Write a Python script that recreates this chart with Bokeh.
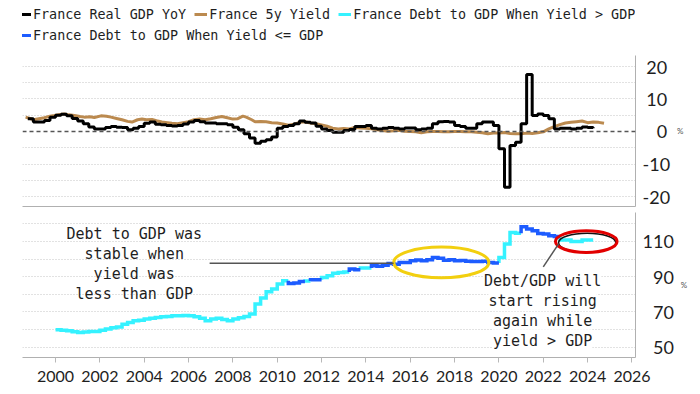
import numpy as np
from bokeh.plotting import figure
from bokeh.models import Range1d, FixedTicker, Span, Legend, LegendItem, Label, Arrow
from bokeh.layouts import column
from bokeh.embed import file_html
from bokeh.resources import INLINE

# ---------------- data ----------------
# France Real GDP YoY (%), quarterly, first quarter starts 1998.75
gdp_first_quarter = 1998.75
gdp_yoy = [
    3.9,
    2.9, 2.9, 3.4, 4.4,
    5.0, 5.3, 4.8, 4.0,
    3.2, 2.4, 1.4, 0.8,
    0.8, 1.2, 1.5, 1.3,
    1.2, 0.5, 1.0, 1.5,
    2.5, 2.9, 2.2, 2.1,
    1.8, 1.7, 1.8, 2.3,
    2.9, 3.4, 3.0, 2.6,
    2.6, 2.4, 2.4, 2.1,
    1.3, 0.5, -0.7, -2.0,
    -3.6, -3.0, -2.5, -1.7,
    1.0, 1.5, 1.8, 2.4,
    3.2, 2.8, 2.6, 1.6,
    0.8, 0.3, -0.2, -0.2,
    0.3, 0.6, 1.5, 1.5,
    1.8, 1.0, 0.8, 1.0,
    1.2, 1.0, 0.8, 1.1,
    1.1, 0.5, 0.8, 1.0,
    2.4, 3.0, 3.1, 2.9,
    1.8, 1.5, 1.0, 1.0,
    2.4, 2.9, 2.9, 1.8,
    -5.3, -17.1, -4.3, -3.3,
    2.4, 17.5, 4.9, 5.4,
    4.9, 3.9, 0.8, 1.0,
    1.0, 0.8, 1.0, 1.4,
    1.2, 1.0,
]

# France 5y yield (%)
yield_years = [
    1998.65, 1998.85, 1999.0, 1999.25, 1999.5, 1999.75, 1999.95, 2000.2, 2000.4, 2000.6,
    2000.85, 2001.1, 2001.3, 2001.55, 2001.75, 2002.05, 2002.3, 2002.5, 2002.75, 2003.0,
    2003.25, 2003.45, 2003.7, 2003.9, 2004.1, 2004.35, 2004.55, 2004.8, 2005.05, 2005.25,
    2005.5, 2005.75, 2006.0, 2006.25, 2006.5, 2006.75, 2007.0, 2007.25, 2007.5, 2007.75,
    2008.0, 2008.2, 2008.45, 2008.6, 2008.85, 2009.0, 2009.25, 2009.5, 2009.75, 2010.0,
    2010.25, 2010.5, 2010.75, 2011.0, 2011.25, 2011.5, 2011.75, 2012.0, 2012.25, 2012.5,
    2012.75, 2013.0, 2013.25, 2013.5, 2013.75, 2014.0, 2014.25, 2014.5, 2014.75, 2015.0,
    2015.25, 2015.5, 2015.75, 2016.0, 2016.25, 2016.5, 2016.75, 2017.0, 2017.25, 2017.5,
    2017.75, 2018.0, 2018.25, 2018.5, 2018.75, 2019.0, 2019.25, 2019.5, 2019.75, 2020.0,
    2020.25, 2020.5, 2020.75, 2021.0, 2021.25, 2021.5, 2021.75, 2022.0, 2022.25, 2022.5,
    2022.75, 2023.0, 2023.25, 2023.5, 2023.75, 2024.0, 2024.25, 2024.5, 2024.74,
]
yield_5y = [
    4.4, 4.0, 3.6, 3.9, 4.2, 4.7, 4.9, 5.2, 5.4, 5.1,
    4.9, 4.6, 4.4, 4.5, 4.3, 4.8, 4.7, 4.4, 4.0, 3.6,
    3.1, 2.9, 3.6, 3.8, 3.6, 3.7, 3.3, 2.9, 2.7, 2.5,
    2.4, 2.7, 3.0, 3.6, 3.8, 3.6, 3.9, 4.3, 4.6, 4.2,
    3.8, 3.9, 4.7, 4.4, 3.6, 3.0, 3.1, 3.0, 2.7, 2.6,
    2.3, 1.9, 2.2, 2.8, 3.0, 2.6, 2.4, 2.0, 1.6, 1.0,
    0.8, 0.9, 0.8, 1.2, 1.1, 1.0, 0.8, 0.5, 0.3, 0.1,
    0.2, 0.4, 0.1, 0.0, -0.1, -0.4, -0.1, 0.0, 0.0, -0.1,
    -0.1, 0.0, 0.0, -0.1, -0.1, -0.2, -0.4, -0.7, -0.5, -0.5,
    -0.3, -0.6, -0.7, -0.7, -0.5, -0.6, -0.4, -0.1, 0.8, 1.5,
    2.1, 2.6, 2.8, 3.0, 3.2, 2.7, 2.9, 2.8, 2.5,
]

# France Debt to GDP (%), quarterly, first quarter starts 2000.0
debt_first_quarter = 2000.0
debt_gdp = [
    60.0, 59.6, 59.4, 58.8,
    58.4, 58.6, 59.0, 59.0,
    59.6, 60.3, 61.0, 61.5,
    63.0, 64.1, 65.0, 65.3,
    66.0, 66.5, 66.9, 67.3,
    67.5, 67.9, 67.9, 68.0,
    67.9, 67.3, 66.5, 65.0,
    66.0, 66.4, 65.8, 65.0,
    66.0, 66.8, 67.5, 68.8,
    74.5, 78.0, 81.5, 83.0,
    85.8, 87.7, 86.2, 86.4,
    87.3, 87.5, 88.3, 88.3,
    89.6, 90.5, 92.0, 92.4,
    92.6, 94.3, 94.0, 94.9,
    94.9, 96.2, 96.0, 96.5,
    97.5, 97.0, 98.1, 98.1,
    99.0, 99.5, 99.0, 99.6,
    100.9, 100.5, 99.4, 99.6,
    99.0, 99.2, 98.8, 98.6,
    98.6, 98.8, 98.1, 97.8,
    100.9, 108.5, 115.1, 114.6,
    118.3, 117.0, 116.0, 114.5,
    114.2, 113.2, 112.8, 110.8,
    110.8, 110.0, 110.0, 110.8,
    110.8,
]
# 1 = yield > GDP (cyan), 0 = yield <= GDP (blue)
debt_yield_above = [
    1, 1, 1, 1,
    1, 1, 1, 1,
    1, 1, 1, 1,
    1, 1, 1, 1,
    1, 1, 1, 1,
    1, 1, 1, 1,
    1, 1, 1, 1,
    1, 1, 1, 1,
    1, 1, 1, 1,
    1, 1, 1, 1,
    1, 1, 0, 0,
    0, 1, 0, 0,
    1, 1, 1, 1,
    1, 0, 0, 1,
    1, 0, 0, 0,
    0, 0, 0, 0,
    0, 0, 0, 0,
    0, 0, 0, 0,
    0, 0, 0, 0,
    0, 0, 0, 0,
    1, 1, 1, 1,
    0, 0, 0, 0,
    0, 0, 0, 1,
    1, 1, 1, 1,
    1,
]

legend_labels = [
    "France Real GDP YoY",
    "France 5y Yield",
    "France Debt to GDP When Yield > GDP",
    "France Debt to GDP When Yield <= GDP",
]
top_ticks = [-20, -10, 0, 10, 20]
top_tick_labels = {-20: "-20", -10: "-10", 0: "\u2008\u20070", 10: "\u200810", 20: "\u200820"}
top_grid = [-20, -15, -10, -5, 5, 10, 15, 20]
bot_ticks = [50, 70, 90, 110]
bot_tick_labels = {50: "\u200750", 70: "\u200770", 90: "\u200790", 110: "110"}
bot_grid = [50, 60, 70, 80, 90, 100, 110, 120]
year_ticks = list(range(2000, 2027, 2))

note_left = ["Debt to GDP was", "stable when", "yield was", "less than GDP"]
note_right = ["Debt/GDP will", "start rising", "again while", "yield > GDP"]

# annotation placement (data units)
NOTE_LEFT_X, NOTE_LEFT_Y = 2003.55, [114.35, 103.0, 91.66, 80.3]
NOTE_RIGHT_X, NOTE_RIGHT_Y = 2021.97, [87.7, 76.35, 65.0, 53.65]
YELLOW = dict(x=2017.40, y=98.1, w=4.29, h=17.4)
RED = dict(x=2023.94, y=109.9, w=2.78, h=12.3)

# ---------------- styling ----------------
BLACK = "#000000"
TAN = "#bb8a4f"
CYAN = "#35f2ff"
BLUE = "#1d5cff"
GRID = "#c4c4c4"
AXIS = "#b0b0b0"
TXT = "#1e1e1e"
MONO = "DejaVu Sans Mono"
SANS = "Lato"

X_RANGE = Range1d(1998.51, 2026.16)
W = 692
LB, RB = 22, 57


def style_common(p):
    p.outline_line_color = None
    p.background_fill_color = "white"
    p.border_fill_color = "white"
    p.xgrid.visible = False
    p.yaxis.axis_line_color = AXIS
    p.yaxis.major_tick_out = 0
    p.yaxis.major_tick_in = 0
    p.yaxis.minor_tick_out = 0
    p.yaxis.minor_tick_in = 0
    p.yaxis.major_label_standoff = 7
    p.yaxis.major_label_text_font = SANS
    p.yaxis.major_label_text_font_size = "18px"
    p.yaxis.major_label_text_color = TXT
    p.yaxis.axis_label = "%"
    p.yaxis.axis_label_text_font = SANS
    p.yaxis.axis_label_text_font_size = "8px"
    p.yaxis.axis_label_text_font_style = "normal"
    p.yaxis.axis_label_text_color = "#555555"
    p.yaxis.axis_label_standoff = 4
    p.yaxis.axis_label_orientation = "horizontal"
    p.ygrid.grid_line_color = GRID
    p.ygrid.grid_line_dash = "1 2"
    p.ygrid.grid_line_width = 1


gdp_x = gdp_first_quarter + 0.25 * np.arange(len(gdp_yoy))

# debt to GDP step line split into regime runs
debt_t = debt_first_quarter + 0.25 * np.arange(len(debt_gdp))
runs = {1: ([], []), 0: ([], [])}
n = len(debt_gdp)
i = 0
while i < n:
    flag = debt_yield_above[i]
    j = i
    while j + 1 < n and debt_yield_above[j + 1] == flag:
        j += 1
    xs, ys = [], []
    if i > 0:
        xs.append(debt_t[i]); ys.append(debt_gdp[i - 1])
    for k in range(i, j + 1):
        xs += [debt_t[k], debt_t[k] + 0.25]
        ys += [debt_gdp[k], debt_gdp[k]]
    runs[flag][0].append(xs); runs[flag][1].append(ys)
    i = j + 1

# ---------------- legend strip ----------------
leg = figure(width=W, height=55, output_backend="svg", toolbar_location=None,
             x_range=Range1d(0, W), y_range=Range1d(0, 55),
             x_axis_location=None, y_axis_location=None,
             min_border_left=0, min_border_right=0, min_border_top=0, min_border_bottom=0)
leg.outline_line_color = None
leg.grid.visible = False
# the series themselves (outside this strip's view) give the legend its glyphs
l_gdp = leg.step(gdp_x, gdp_yoy, mode="after", line_color=BLACK, line_width=3)
l_yld = leg.line(yield_years, yield_5y, line_color=TAN, line_width=3)
l_cy = leg.multi_line(runs[1][0], runs[1][1], line_color=CYAN, line_width=3)
l_bl = leg.multi_line(runs[0][0], runs[0][1], line_color=BLUE, line_width=3)

leg_kw = dict(orientation="horizontal", label_text_font=MONO, label_text_font_size="13.4px",
              label_text_color=TXT, glyph_width=13, glyph_height=18, label_height=18,
              label_standoff=2, spacing=8, padding=0, margin=0,
              border_line_color=None, background_fill_alpha=0)
legend1 = Legend(items=[LegendItem(label=legend_labels[0], renderers=[l_gdp]),
                        LegendItem(label=legend_labels[1], renderers=[l_yld]),
                        LegendItem(label=legend_labels[2], renderers=[l_cy])],
                 location=(-4, 32), **leg_kw)
legend2 = Legend(items=[LegendItem(label=legend_labels[3], renderers=[l_bl])],
                 location=(-4, 11), **leg_kw)
leg.add_layout(legend1)
leg.add_layout(legend2)

# ---------------- top panel ----------------
top = figure(width=W, height=152, output_backend="svg", toolbar_location=None,
             x_range=X_RANGE, y_range=Range1d(-23.0, 23.3), y_axis_location="right",
             min_border_left=LB, min_border_right=RB, min_border_top=0, min_border_bottom=1)
style_common(top)
top.yaxis.ticker = FixedTicker(ticks=top_ticks)
top.yaxis.major_label_overrides = top_tick_labels
top.ygrid.ticker = FixedTicker(ticks=top_grid)
top.xaxis.ticker = FixedTicker(ticks=[])
top.xaxis.major_label_standoff = 0
top.xaxis.major_tick_out = 0
top.xaxis.major_tick_in = 0
top.xaxis.minor_tick_out = 0
top.xaxis.minor_tick_in = 0
top.xaxis.axis_line_color = AXIS

top.add_layout(Span(location=0, dimension="width", line_color="#555555",
                    line_dash="4 3", line_width=1.5))

top.line(yield_years, yield_5y, line_color=TAN, line_width=3)
top.step(gdp_x, gdp_yoy, mode="after", line_color=BLACK, line_width=3)

# ---------------- bottom panel ----------------
bot = figure(width=W, height=183, output_backend="svg", toolbar_location=None,
             x_range=X_RANGE, y_range=Range1d(44.2, 126.4), y_axis_location="right",
             min_border_left=LB, min_border_right=RB, min_border_top=5, min_border_bottom=33)
style_common(bot)
bot.yaxis.ticker = FixedTicker(ticks=bot_ticks)
bot.yaxis.major_label_overrides = bot_tick_labels
bot.ygrid.ticker = FixedTicker(ticks=bot_grid)
bot.xaxis.ticker = FixedTicker(ticks=year_ticks)
bot.xaxis.axis_line_color = AXIS
bot.xaxis.major_tick_out = 5
bot.xaxis.major_tick_in = 0
bot.xaxis.minor_tick_out = 0
bot.xaxis.minor_tick_in = 0
bot.xaxis.major_tick_line_color = "#b8b8b8"
bot.xaxis.major_label_standoff = 8
bot.xaxis.major_label_text_font = SANS
bot.xaxis.major_label_text_font_size = "16px"
bot.xaxis.major_label_text_color = TXT

bot.multi_line(runs[1][0], runs[1][1], line_color=CYAN, line_width=3.5, line_join="miter")
bot.multi_line(runs[0][0], runs[0][1], line_color=BLUE, line_width=3.5, line_join="miter")

# annotations
bot.add_layout(Arrow(end=None, x_start=2006.95, y_start=97.7, x_end=2015.25, y_end=97.7,
                     line_color="#555555", line_width=1.5))
bot.add_layout(Arrow(end=None, x_start=2022.70, y_start=108.8, x_end=2022.0, y_end=95.6,
                     line_color="#555555", line_width=1.5))
bot.ellipse(x=[YELLOW["x"]], y=[YELLOW["y"]], width=[YELLOW["w"]], height=[YELLOW["h"]],
            fill_color=None, line_color="#f2cf0f", line_width=3)
bot.ellipse(x=[RED["x"] + 0.04], y=[RED["y"] - 0.7], width=[RED["w"] - 0.2], height=[RED["h"] - 1.4],
            fill_color=None, line_color="#111111", line_width=1.5)
bot.ellipse(x=[RED["x"]], y=[RED["y"]], width=[RED["w"]], height=[RED["h"]],
            fill_color=None, line_color="#e20000", line_width=3)

for txt, yy in zip(note_left, NOTE_LEFT_Y):
    bot.add_layout(Label(x=NOTE_LEFT_X, y=yy, text=txt, text_align="center",
                         text_baseline="middle", text_font=MONO, text_font_size="15px",
                         text_color=TXT))
for txt, yy in zip(note_right, NOTE_RIGHT_Y):
    bot.add_layout(Label(x=NOTE_RIGHT_X, y=yy, text=txt, text_align="center",
                         text_baseline="middle", text_font=MONO, text_font_size="15px",
                         text_color=TXT, background_fill_color="white"))

layout = column(leg, top, bot)
with open("out.html", "w") as f:
    f.write(file_html(layout, INLINE))
